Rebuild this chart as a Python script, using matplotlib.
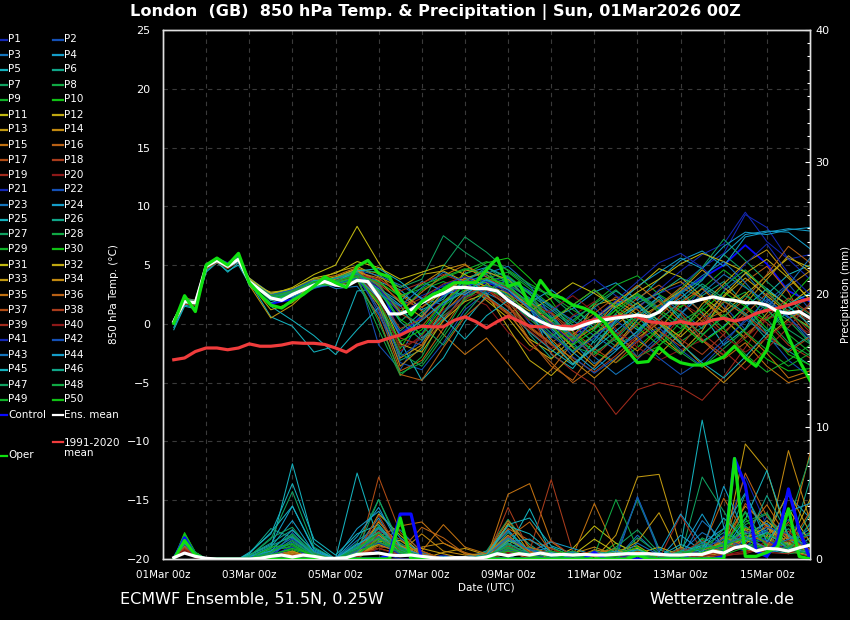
import numpy as np
import matplotlib
matplotlib.use("Agg")
import matplotlib.pyplot as plt
from matplotlib.lines import Line2D
from matplotlib.ticker import MultipleLocator, FixedLocator

# ---------------- data ----------------
title = "London  (GB)  850 hPa Temp. & Precipitation | Sun, 01Mar2026 00Z"
xtick_days = [0, 2, 4, 6, 8, 10, 12, 14]
xtick_labels = ["01Mar 00z", "03Mar 00z", "05Mar 00z", "07Mar 00z",
                "09Mar 00z", "11Mar 00z", "13Mar 00z", "15Mar 00z"]

# 6-hourly time axis (days since 01Mar 00z) for main lines
t6 = np.arange(1, 61) * 0.25
# member time axis
tm = [0.25, 0.5, 0.75, 1.0, 1.25, 1.5, 1.75, 2.0, 2.5, 3.0, 3.5, 4.0, 4.5, 5.0, 5.5,
      6.0, 6.5, 7.0, 7.5, 8.0, 8.5, 9.0, 9.5, 10.0, 10.5, 11.0, 11.5, 12.0, 12.5,
      13.0, 13.5, 14.0, 14.5, 15.0]

ens_mean_temp = [0.2, 1.9, 1.8, 4.9, 5.4, 4.9, 5.5, 3.6, 2.9, 2.2, 2.0, 2.5,
                 2.9, 3.3, 3.6, 3.3, 3.2, 3.7, 3.6, 2.3, 0.85, 0.85, 1.2, 1.8,
                 2.3, 2.6, 3.1, 3.1, 3.0, 3.0, 2.8, 2.0, 1.4, 0.7, 0.2, -0.2,
                 -0.4, -0.45, -0.1, 0.2, 0.35, 0.5, 0.6, 0.75, 0.6, 1.0, 1.8, 1.8,
                 1.85, 2.1, 2.3, 2.1, 2.0, 1.8, 1.8, 1.6, 1.05, 0.9, 1.05, 0.5]
oper_temp = [0.05, 2.4, 1.05, 5.0, 5.6, 5.0, 6.0, 3.5, 2.5, 1.6, 1.35, 2.0,
             2.5, 3.2, 4.0, 3.5, 3.1, 4.9, 5.4, 4.3, 4.0, 2.2, 0.75, 1.9,
             2.5, 2.9, 3.5, 3.5, 3.5, 4.6, 5.6, 3.2, 3.5, 1.6, 3.7, 2.5,
             2.2, 1.6, 1.35, 0.9, 0.1, -1.1, -2.2, -3.3, -3.2, -2.0, -2.8, -3.3,
             -3.5, -3.5, -3.2, -2.8, -1.9, -2.9, -3.6, -2.2, 1.1, -1.1, -3.1, -4.8]
clim_temp = [-3.05, -2.9, -2.35, -2.05, -2.05, -2.2, -2.05, -1.7, -1.9, -1.9, -1.8, -1.6,
             -1.65, -1.65, -1.75, -2.05, -2.4, -1.8, -1.5, -1.5, -1.2, -0.95, -0.5, -0.2,
             -0.25, -0.25, 0.3, 0.6, 0.2, -0.35, 0.2, 0.65, 0.25, -0.2, -0.25, -0.25,
             -0.2, -0.25, 0.1, 0.35, 0.5, 0.6, 0.68, 0.62, 0.2, 0.1, 0.0, 0.2,
             0.0, 0.0, 0.34, 0.48, 0.25, 0.45, 0.9, 1.15, 1.33, 1.6, 1.9, 2.15]
control_temp = [0.1, 2.3, 1.2, 5.0, 5.6, 5.1, 5.9, 3.4, 1.7, 2.1, 3.1, 3.4, 4.6, 3.6, -1.0, 0.7, 2.4,
                3.3, 3.5, 3.0, 1.5, 0.2, -1.0, 0.4, 1.8, 2.3, 1.3, 2.6, 3.9, 5.0, 6.7, 5.1, 2.8, 1.9]

ens_mean_prec = [0.1, 0.45, 0.2, 0.05, 0, 0, 0, 0, 0.05, 0.2, 0.3, 0.15,
                 0.3, 0.2, 0.05, 0.05, 0.1, 0.35, 0.4, 0.45, 0.3, 0.25, 0.3, 0.2,
                 0.1, 0.05, 0.1, 0.1, 0.05, 0.15, 0.4, 0.25, 0.4, 0.3, 0.45, 0.3,
                 0.35, 0.3, 0.35, 0.3, 0.3, 0.35, 0.4, 0.4, 0.4, 0.35, 0.3, 0.3,
                 0.35, 0.35, 0.6, 0.45, 0.85, 1.0, 0.6, 0.8, 0.75, 0.6, 0.85, 1.05]
oper_prec = [0, 1.4, 0.3, 0, 0, 0, 0, 0, 0, 0, 0, 0, 0, 0, 0, 0, 0, 0, 0, 0,
             0, 3.1, 0, 0, 0, 0, 0, 0, 0, 0, 0, 0, 0, 0, 0, 0, 0, 0, 0, 0,
             0, 0, 0, 0.3, 0, 0, 0, 0, 0, 0, 0, 0, 7.6, 0.2, 0.2, 0.5, 0.9, 3.8, 0.2, 0]
control_prec = [0, 1.6, 0.3, 0, 0, 0, 0, 0, 0, 0, 0, 0, 0, 0, 0, 0, 0, 0, 0, 0,
                0.3, 3.4, 3.4, 0, 0, 0, 0, 0, 0, 0, 0, 0, 0, 0, 0, 0, 0, 0, 0, 0.5,
                0, 0, 0, 0, 0, 0, 0, 0, 0, 0, 0, 0.2, 7.6, 5.6, 0.6, 0.2, 1.4, 5.3, 2.2, 0]

# member temperatures (°C)
t_p01 = [0.1,1.8,1.6,4.8,5.6,5.1,5.7,3.5, 2.1,2.6,3.4,3.2,3.9,2.8,1.5,2.4,3.2,3.6,4.1,3.5,1.2,-0.8,-2.3,-1.0,0.4,1.5,2.6,3.3,4.8,6.0,9.3,8.2,5.5,3.8]
t_p02 = [0.3,2.1,1.9,5.0,5.3,4.8,5.4,3.8, 2.4,2.2,3.0,3.6,4.4,-1.8,-3.9,-0.8,1.8,2.9,3.3,2.4,0.1,-1.2,0.6,1.4,-0.6,-2.8,-1.0,0.8,3.1,1.6,-0.5,1.9,3.4,1.2]
t_p03 = [0.0,1.7,1.9,4.7,5.2,4.9,5.3,3.9, 2.6,2.9,3.8,3.0,3.2,0.8,-2.6,0.5,2.8,3.9,2.6,1.8,2.2,0.9,-1.6,-3.4,-2.1,0.3,2.4,1.1,-0.4,2.8,4.3,2.2,0.6,-1.5]
t_p04 = [0.2,2.0,1.8,5.1,5.5,5.0,5.8,3.2, 1.8,2.4,3.6,3.4,4.1,3.6,2.9,1.2,2.1,4.3,4.8,3.9,1.9,0.5,1.3,2.7,3.5,2.0,3.8,5.4,6.2,4.9,7.4,7.8,8.1,7.9]
t_p05 = [-0.3,1.6,1.4,4.5,5.3,4.4,5.2,3.6, 0.6,-0.2,-2.4,-1.9,2.8,3.0,1.6,-1.2,0.4,2.5,3.7,2.9,1.5,-2.6,-3.8,-1.4,0.8,-0.5,1.2,2.8,0.9,-1.8,-0.4,2.5,4.2,5.0]
t_p06 = [0.2,1.9,1.7,4.9,5.4,4.9,5.5,3.7, 2.3,2.7,3.1,3.5,3.9,2.0,-3.1,-2.2,1.6,3.8,4.6,2.3,-0.9,-2.9,-1.8,0.5,1.8,0.6,-1.2,0.9,2.4,3.6,1.7,-0.8,-2.3,-3.5]
t_p07 = [0.4,2.1,2.0,5.0,5.5,5.0,5.6,3.6, 2.0,2.5,3.5,3.6,4.3,3.3,0.2,1.8,4.9,7.4,6.1,4.5,3.2,2.4,0.8,-0.6,-1.9,-0.7,1.0,2.6,3.8,5.9,4.4,3.0,1.4,0.2]
t_p08 = [0.1,1.8,1.9,4.8,5.3,4.8,5.4,3.5, 2.2,2.6,3.2,3.3,3.8,-0.5,-4.4,-2.8,0.7,2.0,3.4,3.8,2.6,-0.4,-1.9,-2.6,-1.0,0.9,0.2,-1.5,-0.3,1.8,2.7,0.4,-1.6,-2.7]
t_p09 = [0.2,2.0,1.7,4.9,5.5,5.1,5.6,3.7, 2.4,2.9,3.9,3.4,3.6,2.6,1.0,2.9,3.6,2.8,3.9,4.4,3.0,1.6,0.1,1.8,3.3,4.1,2.5,1.4,3.0,4.6,3.2,1.3,-0.9,-2.4]
t_p10 = [0.1,1.9,1.8,4.9,5.4,5.0,5.5,3.6, 2.1,2.7,3.5,3.4,4.0,1.9,-2.1,0.8,3.1,4.2,5.2,5.6,3.9,2.0,-0.7,-2.4,-3.3,-2.0,-0.4,1.5,2.2,0.5,-1.4,-3.0,-4.0,-3.8]
t_p11 = [0.3,2.0,1.9,5.0,5.4,4.8,5.3,3.9, 2.5,3.1,4.2,5.0,8.3,5.2,2.6,1.4,2.7,3.2,2.4,0.9,-1.3,-2.4,-0.9,0.4,1.9,3.1,4.7,4.0,2.3,1.0,2.5,4.1,5.6,4.8]
t_p12 = [0.2,1.8,1.6,4.7,5.2,4.9,5.5,3.4, 2.7,2.9,3.6,4.4,4.9,4.0,3.1,4.2,4.5,3.6,2.0,0.5,-1.8,-3.0,-1.2,1.6,2.1,0.8,-1.0,-2.5,-0.6,2.3,3.9,2.4,0.9,-0.3]
t_p13 = [0.4,2.2,2.0,5.1,5.6,5.0,5.6,3.3, 0.5,1.6,3.3,3.9,4.6,2.1,-2.9,-1.8,1.4,4.6,4.2,2.9,1.5,0.2,1.6,2.9,1.2,-1.4,-2.6,-0.8,1.7,3.4,5.2,6.3,4.1,2.0]
t_p14 = [0.2,1.9,1.8,4.9,5.5,4.9,5.4,3.7, 2.3,2.8,3.4,3.9,4.7,4.3,2.2,3.4,4.6,5.1,3.5,1.9,-0.3,-1.7,-3.4,-2.0,-0.1,1.4,2.8,3.6,2.1,0.4,-1.2,0.9,3.2,4.5]
t_p15 = [0.1,1.8,1.7,4.8,5.3,4.8,5.3,3.6, 2.2,2.4,3.3,3.7,4.4,3.9,2.5,1.1,-0.9,-2.6,-1.2,-3.4,-5.6,-3.9,-1.6,0.3,-1.0,-2.3,-0.5,1.8,3.0,1.3,-0.8,-2.5,-4.6,-4.0]
t_p16 = [0.3,2.0,1.8,5.0,5.4,5.0,5.5,3.6, 2.0,2.6,3.7,3.8,4.5,1.2,-4.0,-3.1,-0.4,2.3,3.1,1.7,-1.4,-3.6,-4.8,-2.2,0.6,2.2,3.3,1.9,0.2,1.1,3.6,4.9,2.7,-0.5]
t_p17 = [0.0,1.7,1.6,4.8,5.2,4.7,5.3,3.5, 2.2,2.5,3.5,3.8,4.2,3.4,0.9,-0.2,1.9,3.3,2.2,0.8,2.1,1.0,-0.6,-2.1,-3.3,-1.5,0.6,2.5,1.0,-0.7,0.8,2.6,1.1,-1.2]
t_p18 = [0.2,1.9,1.9,4.9,5.4,4.9,5.5,3.7, 2.4,2.7,3.6,3.5,4.0,2.7,-1.2,-1.8,0.2,2.6,3.0,1.4,-0.4,-1.8,-2.9,-4.1,-2.7,-1.0,0.5,-1.3,-2.6,-0.9,1.3,0.1,-1.8,-2.9]
t_p19 = [0.1,1.8,1.7,4.8,5.4,4.9,5.4,3.6, 2.3,2.9,3.7,3.6,4.4,3.1,1.3,2.2,3.4,4.0,3.2,2.0,0.9,-2.5,-4.0,-5.2,-7.7,-5.6,-5.0,-5.4,-6.5,-4.5,-2.0,0.5,1.2,-0.7]
t_p20 = [0.3,2.0,1.8,5.0,5.5,5.0,5.6,3.5, 2.1,2.6,3.4,3.6,4.1,2.4,-2.3,-1.0,1.2,2.4,1.6,-0.7,-2.3,-0.9,0.7,1.9,-0.4,-2.0,-3.1,-2.2,-1.4,-2.6,-1.2,0.4,1.0,0.3]
t_p21 = [0.2,1.9,1.8,4.9,5.6,5.2,5.8,3.7, 2.3,2.7,3.5,3.4,3.8,2.5,-0.8,0.6,2.4,3.1,2.8,3.3,2.2,1.0,2.6,3.8,2.4,1.3,2.9,4.5,5.9,6.8,9.5,7.0,5.5,5.9]
t_p22 = [0.1,1.8,1.7,4.8,5.4,4.9,5.4,3.6, 2.2,2.8,3.6,3.8,4.3,0.9,-3.3,-3.9,-1.6,1.2,2.7,2.9,1.2,-0.5,-2.8,-4.2,-2.9,-1.4,-0.3,-2.2,-3.6,-1.7,0.4,-0.9,-3.1,-4.5]
t_p23 = [0.4,2.1,2.0,5.1,5.5,5.1,5.7,3.8, 2.5,2.9,3.7,3.7,4.6,4.1,3.3,2.2,1.6,3.4,4.3,4.9,3.3,0.6,-1.1,-2.8,-4.3,-3.0,-1.3,0.8,2.6,4.2,3.1,1.9,0.5,1.6]
t_p24 = [0.2,1.9,1.8,4.9,5.4,4.9,5.5,3.6, 2.1,2.3,3.1,3.6,4.2,3.0,1.9,3.6,2.8,2.5,3.7,3.2,1.8,2.9,1.5,-0.4,1.5,3.2,4.4,5.6,4.7,6.6,7.8,7.6,8.0,8.2]
t_p25 = [-0.5,1.5,1.3,4.4,5.2,4.5,5.0,3.4, 1.5,0.3,-1.0,-2.6,-0.5,1.4,-1.5,-4.8,-2.9,0.2,2.4,1.1,-0.7,-2.2,-3.5,-2.1,-0.6,0.9,2.3,0.4,-1.5,-0.2,1.4,3.0,1.5,-0.1]
t_p26 = [0.2,2.0,1.9,5.0,5.4,5.0,5.5,3.5, 2.2,2.6,3.2,3.4,3.9,2.2,-0.6,1.0,2.3,3.7,4.5,3.6,2.7,1.4,-0.1,-1.6,0.1,1.8,2.6,3.9,3.2,2.0,0.7,-1.3,-2.2,-1.0]
t_p27 = [0.3,2.1,1.9,5.0,5.5,5.0,5.6,3.6, 2.3,2.8,3.7,3.9,4.6,4.4,3.1,3.8,7.5,6.1,4.9,3.4,2.2,0.5,-1.3,0.2,1.6,2.6,1.4,3.0,4.8,7.2,5.4,3.6,2.0,0.8]
t_p28 = [0.1,1.8,1.7,4.8,5.3,4.9,5.4,3.6, 2.4,2.7,3.4,3.3,4.0,1.6,-2.5,-3.6,-1.1,1.5,3.0,2.1,0.4,-1.1,0.3,1.7,2.9,1.2,-0.6,-2.4,-3.7,-2.1,-0.5,1.5,0.3,-1.6]
t_p29 = [0.2,1.9,1.8,4.9,5.5,5.1,5.6,3.7, 2.0,2.5,3.3,3.6,4.3,3.5,2.4,3.0,3.9,4.6,5.3,4.6,3.4,2.4,1.2,0.1,-1.5,-2.8,-1.9,0.2,1.3,-0.4,-2.6,-4.1,-3.1,-1.8]
t_p30 = [0.2,2.0,1.8,4.9,5.4,5.0,5.5,3.6, 2.2,2.6,3.5,3.5,3.9,2.9,0.4,-0.9,1.5,2.9,3.6,4.1,2.6,0.3,-1.4,-0.2,1.2,-0.3,-1.8,-0.6,1.1,2.7,1.5,0.3,2.0,4.0]
t_p31 = [0.3,2.0,1.9,5.0,5.5,5.0,5.6,3.8, 2.6,3.0,3.9,4.3,5.3,4.8,3.8,4.4,5.0,4.2,3.1,2.3,1.1,2.2,3.5,2.6,1.4,2.7,3.8,5.1,6.0,5.3,4.4,2.8,1.6,3.0]
t_p32 = [0.1,1.8,1.7,4.8,5.3,4.8,5.3,3.5, 1.2,1.8,3.6,4.0,4.7,2.7,-1.7,-2.4,0.3,1.9,2.6,-0.3,-3.1,-4.4,-2.6,-0.9,0.5,1.8,0.2,-1.1,0.6,2.4,4.3,5.5,3.9,2.1]
t_p33 = [0.2,1.9,1.8,4.9,5.4,4.9,5.5,3.6, 2.3,2.7,3.3,3.8,4.5,3.7,1.8,0.6,2.7,3.9,4.4,3.8,1.9,-0.1,-2.0,-3.6,-1.8,0.4,1.6,2.8,4.6,3.1,1.7,3.8,5.8,4.4]
t_p34 = [0.2,2.0,1.8,5.0,5.4,5.0,5.5,3.7, 2.1,2.5,3.4,3.7,4.2,1.6,-3.6,-2.0,0.9,2.8,3.3,2.6,0.7,-1.3,-3.1,-4.6,-3.0,-1.2,0.1,-1.6,-3.5,-5.0,-3.2,-1.1,0.4,1.5]
t_p35 = [0.1,1.8,1.7,4.8,5.3,4.8,5.4,3.5, 2.2,2.5,3.8,4.1,4.8,3.2,1.0,2.7,4.1,5.0,4.0,2.6,1.3,0.1,-1.5,-0.3,1.8,3.3,1.9,0.2,-1.4,-3.0,-1.6,-3.6,-5.0,-4.4]
t_p36 = [0.3,2.1,1.9,5.0,5.5,5.0,5.6,3.6, 2.4,2.8,3.5,3.3,3.7,0.5,-4.3,-4.8,-2.0,0.6,2.2,1.0,-1.5,-3.3,-5.0,-3.7,-1.8,0.0,1.6,3.1,2.2,0.6,2.1,4.2,6.6,5.2]
t_p37 = [0.2,1.9,1.8,4.9,5.4,4.9,5.5,3.6, 2.3,2.7,3.6,3.7,4.4,3.4,2.0,1.4,3.0,3.8,2.9,1.5,-0.2,-1.6,-0.4,0.9,2.3,1.2,-0.6,-1.9,0.3,1.9,0.8,-0.9,-2.4,-1.1]
t_p38 = [0.0,1.7,1.6,4.7,5.2,4.8,5.3,3.5, 2.1,2.6,3.3,3.6,4.0,2.3,-0.4,0.4,1.9,3.4,3.9,3.0,1.7,0.9,-0.9,-2.8,-1.1,0.7,2.0,1.0,-1.3,-2.7,-0.9,0.6,2.2,0.9]
t_p39 = [0.2,1.9,1.8,4.9,5.4,5.0,5.5,3.7, 2.2,2.7,3.5,3.6,4.2,3.8,2.8,3.5,4.2,3.5,2.3,1.0,-0.6,-2.1,-1.0,0.6,-1.2,-2.9,-1.5,0.5,-0.8,-2.3,-3.9,-2.1,-0.3,1.8]
t_p40 = [0.3,2.0,1.9,5.0,5.5,5.0,5.6,3.6, 2.3,2.8,3.6,3.5,4.1,2.0,-1.9,-1.3,0.6,2.1,2.9,1.8,0.3,1.2,2.4,1.0,-0.8,-1.6,0.4,1.8,0.7,-1.0,-2.4,-1.2,0.2,-0.8]
t_p41 = [0.2,1.9,1.7,4.9,5.5,5.0,5.6,3.6, 2.2,2.6,3.5,3.7,4.3,3.1,0.8,2.0,3.3,4.0,3.6,2.7,1.4,0.0,-1.6,0.5,2.0,3.6,5.2,6.0,4.8,3.0,5.1,6.8,4.3,2.5]
t_p42 = [0.1,1.8,1.8,4.8,5.4,4.9,5.4,3.6, 2.4,2.9,3.7,3.4,3.9,1.3,-2.8,-1.5,1.0,2.4,3.2,2.2,0.6,-1.0,-2.4,-1.2,0.3,-1.1,-2.9,-4.3,-3.1,-1.4,0.2,2.1,0.6,-1.2]
t_p43 = [0.3,2.0,1.9,5.0,5.4,5.0,5.5,3.7, 2.3,2.6,3.3,3.9,4.2,2.6,1.5,3.1,4.4,3.5,2.5,3.9,2.8,1.5,0.3,-1.0,-2.2,-0.9,1.2,2.7,4.1,5.3,3.5,1.4,3.3,5.6]
t_p44 = [0.1,1.8,1.7,4.8,5.3,4.8,5.3,3.5, 2.1,2.5,3.4,3.5,4.0,2.2,-1.0,0.3,1.8,2.7,3.8,2.9,1.3,-0.3,-2.4,-3.9,-2.3,-0.6,1.1,2.2,3.7,5.9,7.6,7.9,7.8,6.4]
t_p45 = [0.2,1.9,1.8,4.9,5.4,4.9,5.5,3.6, 2.0,2.4,3.7,3.6,4.5,4.7,3.6,2.1,0.5,-1.3,0.7,2.0,0.9,-1.5,-3.4,-2.0,0.3,1.5,0.0,-1.7,-3.3,-4.6,-2.8,-0.8,1.7,2.6]
t_p46 = [0.2,2.0,1.8,5.0,5.5,5.0,5.6,3.7, 2.2,2.8,3.6,3.9,4.4,2.8,0.2,-1.4,0.9,3.6,4.8,4.0,2.5,1.2,-0.3,1.4,2.8,1.6,0.3,1.9,3.4,2.2,0.9,-0.6,1.1,2.3]
t_p47 = [0.3,2.0,1.9,5.0,5.4,5.0,5.5,3.6, 2.3,2.7,3.4,3.6,4.3,3.3,1.1,-0.2,-1.8,0.8,2.9,3.7,2.0,0.5,-1.0,-2.4,-1.3,0.6,2.1,0.7,-0.9,0.6,2.4,1.2,-0.5,-1.7]
t_p48 = [0.1,1.8,1.7,4.8,5.3,4.9,5.4,3.5, 2.2,2.6,3.5,3.3,3.8,0.2,-4.2,-3.3,-0.8,2.2,3.3,2.5,0.8,-0.8,-2.3,-0.9,0.9,2.4,1.0,-0.4,1.4,3.2,4.6,2.8,0.9,-0.4]
t_p49 = [0.2,1.9,1.8,4.9,5.4,5.0,5.5,3.7, 2.4,2.8,3.6,3.7,4.1,3.6,2.3,3.3,4.0,4.7,4.2,3.1,1.7,0.4,1.6,2.9,1.5,0.1,-1.3,-2.6,-1.0,0.8,-0.7,-2.2,-3.6,-2.5]
t_p50 = [0.2,2.0,1.8,5.0,5.5,5.0,5.6,3.6, 2.1,2.5,3.3,3.5,4.0,1.8,-1.5,-0.5,1.9,3.3,3.9,3.3,1.6,-0.2,-1.8,-0.5,1.2,2.5,1.2,0.0,-1.6,-0.3,1.5,-0.4,-2.6,-3.5]

# member precipitation (mm)
r_p01 = [0,1.2,0.3,0,0,0,0,0.2, 0,0.4,0,0,1.2,0.5,0,0,0.3,0,0,0.6,0,0,0.4,0,0,0.3,0,0,0.5,1.8,6.2,2.5,0.8,0.3]
r_p02 = [0,0.9,0.2,0,0,0,0,0, 0,1.1,0.2,0,0.4,2.1,0.6,0,0,0,0.3,0,0.9,0.3,0,0,0.4,0,0,0.2,0,1.1,0.6,3.2,1.4,2.0]
r_p03 = [0,1.6,0.4,0,0,0,0,0, 0.3,0.6,0,0,0,1.4,2.2,0.5,0,0,0,1.8,0.3,0,0,0,0,4.7,0.8,0,0,0.4,2.5,1.2,0.6,1.1]
r_p04 = [0,1.4,0.5,0,0,0,0,0.3, 1.1,4.0,0.7,0,0.9,3.1,0.4,0,0.2,0,0.6,2.2,0.5,0.9,0.2,0,0.3,0,0,0.6,3.4,0.8,1.6,2.2,4.8,3.1]
r_p05 = [0,1.1,0.2,0,0,0,0,0, 0.8,7.2,1.2,0,6.5,1.3,0.5,0,0,0,0,0.8,3.8,0.4,0,0,0,0,0,0.9,10.5,2.4,1.0,0.7,0.4,1.6]
r_p06 = [0,1.5,0.3,0,0,0,0,0.4, 2.3,1.6,0.3,0,0.6,1.9,1.2,0.2,0,0,0.4,2.6,1.1,0,0.3,0,0,0.5,0,0.3,0,0.9,4.9,1.8,0.5,6.0]
r_p07 = [0,1.8,0.4,0,0,0,0,0.2, 1.5,5.1,0.9,0,1.2,4.5,0.8,0.3,0,0,0.6,3.0,0.9,0,0,0.3,0.6,4.5,0.7,0.2,6.2,3.6,1.1,0.8,2.3,0.5]
r_p08 = [0,1.2,0.2,0,0,0,0,0, 0.4,1.8,0.3,0,0.8,2.5,0.6,0,0,0,0,1.4,0.7,0.3,0,0,0,0.8,0,0.3,1.1,0.4,2.8,3.5,0.9,0.2]
r_p09 = [0,1.3,0.3,0,0,0,0,0, 0.6,1.0,0.2,0,0.3,1.6,0.9,0,0,0,0,0.4,0.2,0,0.5,0,1.2,0.4,0,0,1.5,0.3,0.9,1.6,2.6,1.0]
r_p10 = [0,1.9,0.5,0,0,0,0,0, 0.2,0.9,0.3,0,0.5,1.1,0.5,0,0,0,0,0.5,0.2,0.8,0.3,0,0,0.6,0.3,0,0.4,1.0,3.5,0.9,1.2,0.4]
r_p11 = [0,0.8,0.2,0,0,0,0,0, 0,0.4,0,0,0.4,3.4,1.8,0.4,0,0,0.2,0.6,0,0,0.8,2.5,1.2,0.4,0,0,0.2,0.8,2.2,1.1,0.6,0.3]
r_p12 = [0,1.0,0.3,0,0,0,0,0, 0,0.3,0,0,0,1.2,0.9,0.6,0,0,0.3,1.2,0.3,0,0,0,0.6,1.0,0,0.2,0.3,0.6,1.5,2.9,1.4,0.7]
r_p13 = [0,1.4,0.4,0,0,0,0,0, 0,0.5,0.2,0,0.3,1.5,0.7,0,0.5,0.8,0.3,1.6,0.4,0.3,0,0,1.8,6.2,6.4,0.9,0.2,0.5,8.7,6.7,1.4,0.5]
r_p14 = [0,1.1,0.2,0,0,0,0,0, 0,0.2,0,0,0.5,0.8,0.4,0.9,1.2,0.4,0,0.7,0.2,0,0.4,0.9,0.3,0,0.3,0.5,0,1.6,0.6,0.8,8.2,2.9]
r_p15 = [0,1.7,0.5,0,0,0,0,0, 0.3,0.6,0,0,0.4,1.7,2.5,2.8,1.2,0.5,0,4.9,5.7,1.3,0.2,4.2,0.6,0,0,0.3,0.5,1.2,2.0,4.1,1.5,8.0]
r_p16 = [0,1.3,0.3,0,0,0,0,0, 0,0.3,0,0,0.2,1.0,0.6,2.4,1.6,0.4,0.3,2.3,1.4,0.8,0,0.5,0.2,0,0.4,0.3,0.8,4.6,1.8,1.3,0.9,3.6]
r_p17 = [0,1.0,0.2,0,0,0,0,0, 0,0.2,0,0,0,6.2,2.0,0.6,0,0,0,0.8,0.4,0.3,0,0.3,0,0.6,0,0,0.4,0.7,4.2,2.4,0.6,0.2]
r_p18 = [0,0.9,0.3,0,0,0,0,0, 0,0.3,0.5,0,0.6,2.1,1.5,0.3,0,0,0,3.9,0.6,6.0,0.5,0,0.2,0,0,0.7,0.3,0.5,1.1,2.6,0.8,0.4]
r_p19 = [0,0.7,0.2,0,0,0,0,0, 0,0.1,0,0,0.3,0.8,1.1,0.2,0,0,0,0.4,0.2,0.8,0,0,0.3,0.4,0,3.3,0.6,0.3,0.4,0.9,2.1,0.6]
r_p20 = [0,0.6,0.1,0,0,0,0,0, 0,0,0,0,0,1.5,0.4,0,0,0,0,0.9,0.3,0,0.2,0,0,0.2,0,0.4,0.2,0.3,0.6,1.3,0.5,0.8]
r_p21 = [0,1.4,0.4,0,0,0,0,0, 0.2,0.8,0,0,0.5,1.3,0.3,0,0,0,0.2,0.5,0.3,0,0,0,0,0.8,0,0,0.3,0.9,1.7,1.2,3.0,0.9]
r_p22 = [0,1.0,0.2,0,0,0,0,0, 0,2.0,0.3,0,0.7,1.8,0.6,0,0,0,0,1.1,0.8,0.2,0,0.4,0,0.5,0,0.5,1.2,0.6,1.3,2.1,0.7,2.6]
r_p23 = [0,1.2,0.3,0,0,0,0,0, 0.6,1.6,0.4,0,1.4,2.4,0.9,0,0,0.2,0.5,2.1,0.4,0,0.3,0,0,1.8,0.3,0,2.9,1.4,0.8,0.4,0.9,0.3]
r_p24 = [0,1.3,0.3,0,0,0,0,0.2, 0.9,2.9,0.5,0,2.3,3.6,1.6,0.4,0,0,0.3,1.7,0.5,1.3,0.8,0.3,0.5,0.2,0,1.8,0.6,5.5,1.9,2.7,1.1,2.3]
r_p25 = [0,1.5,0.4,0,0,0,0,0.5, 1.9,5.7,1.5,0.3,1.9,2.6,0.7,0.2,0,0,0.4,2.6,3.1,1.0,0.4,0,0,0.3,0,0.6,1.0,0.7,3.0,6.7,1.7,0.9]
r_p26 = [0,1.6,0.4,0,0,0,0,0.3, 1.2,2.2,0.5,0,0.8,1.5,0.5,0,0,0,0.2,2.0,0.6,0.3,0,0.2,0,0.7,0.2,0.4,0.8,1.2,2.0,1.4,0.6,3.4]
r_p27 = [0,1.7,0.5,0,0,0,0,0.2, 0.8,1.9,0.4,0,0.6,4.5,1.1,0,0,0,0,1.2,0.3,0,0.6,0,0.9,2.2,0.5,0,1.6,0.8,3.6,1.0,2.8,7.7]
r_p28 = [0,1.3,0.3,0,0,0,0,0, 0.5,1.2,0.3,0,0.9,1.8,0.4,0,0,0,0,0.6,0.9,0.2,0,0.3,4.5,0.8,0,0.6,0.4,2.3,0.7,1.1,0.4,0.6]
r_p29 = [0,1.5,0.4,0,0,0,0,0, 0.7,0.9,0.2,0,0.4,1.2,0.8,0.3,0,0,0,1.0,0.2,0.5,0,0,0.6,0.3,0,0.8,0.2,1.4,1.9,0.6,1.3,0.5]
r_p30 = [0,2.0,0.5,0,0,0,0,0, 0.4,0.7,0.2,0,0.3,1.9,0.6,0,0,0,0,0.7,0.3,0.4,0.5,0,0,0.4,0,0.3,0.7,0.6,2.4,1.6,0.5,1.2]
r_p31 = [0,0.9,0.2,0,0,0,0,0, 0,0.3,0,0,0.3,2.8,1.0,0.3,0,0,0,0.9,0.2,0,0.3,1.5,0.5,0.8,0,0,0.5,1.0,1.4,0.9,3.8,1.3]
r_p32 = [0,1.2,0.3,0,0,0,0,0, 0,0.2,0,0,0.2,1.3,1.4,0.3,0,0,0.2,1.4,0.6,0,0.2,0.5,0.3,0.4,0.9,0.3,0.4,0.9,1.6,2.4,1.0,4.5]
r_p33 = [0,1.0,0.2,0,0,0,0,0, 0,0.6,0,0,0.5,1.8,0.6,0.8,0.4,0,0,2.7,0.5,0.3,0,0.7,0.4,1.3,3.5,0.2,0,0.6,2.3,1.7,5.1,2.0]
r_p34 = [0,1.4,0.3,0,0,0,0,0, 0,0.4,0,0,0.3,1.1,0.5,1.9,0.6,0.3,0.4,1.8,0.4,0.6,0.2,0.4,0,0.2,0.4,0,0.6,1.3,4.0,2.5,1.2,0.5]
r_p35 = [0,1.6,0.4,0,0,0,0,0, 0.2,0.5,0,0,0.6,2.3,0.9,0.6,2.6,0.9,0.4,2.9,0.9,0.4,0,0.4,0.8,0.3,0,0.4,0.2,1.7,0.9,0.4,1.8,0.9]
r_p36 = [0,1.2,0.3,0,0,0,0,0, 0,0.3,0,0,0.3,1.6,0.8,0.4,0,0,0,1.6,2.8,0.5,0.3,0,0,0.5,0,0.2,0.4,0.8,6.5,3.2,1.6,0.7]
r_p37 = [0,0.9,0.2,0,0,0,0,0, 0,0.2,0,0,0.4,2.9,0.6,0.2,0,0,0,1.0,0.3,0,0.3,0.6,0.2,0,0.2,0.5,0,0.4,2.1,1.2,0.7,1.9]
r_p38 = [0,1.1,0.2,0,0,0,0,0, 0,0.3,0.4,0,0.5,3.3,0.5,0,0,0,0,1.7,0.5,1.4,0.2,0,0.4,0.3,0,0.8,0.3,0.5,1.6,0.9,2.8,0.6]
r_p39 = [0,0.8,0.2,0,0,0,0,0, 0,0.2,0,0,0,1.9,0.7,0,0,0,0,0.6,0.3,0.4,0,0.2,0,0.5,0,0.4,1.4,0.6,0.9,0.5,0.4,1.1]
r_p40 = [0,0.7,0.1,0,0,0,0,0, 0,0.1,0,0,0.2,0.8,0.3,0,0,0,0.3,0.5,0.1,0,0,0,0.2,0,0,0.2,0.3,0.2,0.5,0.9,1.4,0.3]
r_p41 = [0,1.3,0.3,0,0,0,0,0, 0.3,0.9,0,0,0.7,1.2,0.6,0,0,0,0,0.9,0.4,0,0.2,0,0,0.5,0,0,0.6,0.9,2.1,1.4,0.7,0.4]
r_p42 = [0,1.1,0.2,0,0,0,0,0, 0.2,1.5,0.2,0,0.6,1.7,0.3,0,0,0,0.2,0.7,0.4,0.6,0,0,0.3,4.7,0.5,0,0.8,1.5,0.9,2.4,1.9,0.6]
r_p43 = [0,1.5,0.4,0,0,0,0,0.2, 0.4,1.3,0.3,0,1.0,2.3,0.8,0,0,0,0.3,1.6,0.7,0.2,0.5,0,0,1.2,0.3,0.5,2.0,1.1,1.7,0.8,1.5,1.8]
r_p44 = [0,1.2,0.3,0,0,0,0,0.2, 0.6,2.2,0.6,0,1.7,3.9,0.9,0.3,0,0,0,1.3,1.5,0.4,0.3,0.3,0.6,0.2,0.5,3.4,1.2,2.3,5.0,1.3,3.6,4.2]
r_p45 = [0,1.4,0.4,0,0,0,0,0.4, 2.0,4.0,0.8,0,1.1,2.0,0.5,0,0,0,0.3,2.5,1.9,0.5,0,0.3,0.4,0.7,0.2,1.1,0.5,3.1,1.4,2.0,0.8,0.5]
r_p46 = [0,1.6,0.4,0,0,0,0,0.3, 1.0,1.7,0.3,0,0.5,2.4,0.7,0,0,0,0,1.5,0.4,0.3,0,0.6,0.3,0.4,0,0.5,0.9,2.0,1.2,4.8,1.8,0.9]
r_p47 = [0,1.5,0.3,0,0,0,0,0.2, 1.6,2.4,0.4,0,0.9,1.6,0.9,0,0,0,0,1.1,0.4,0.2,0.6,0,0,1.6,0.4,0,1.3,0.6,2.6,3.4,0.6,2.7]
r_p48 = [0,1.4,0.3,0,0,0,0,0, 0.5,1.4,0.2,0,0.4,1.3,0.5,0,0,0,0.3,0.9,0.3,0,0.4,0,0.8,0.3,0,0.6,0.3,1.2,0.7,2.0,1.0,0.5]
r_p49 = [0,1.8,0.5,0,0,0,0,0, 0.9,1.1,0.2,0,0.7,2.0,0.8,0,0,0,0,0.8,0.3,0.6,0.2,0,0.2,0.5,0,0.4,0.8,1.0,1.6,0.6,0.9,2.0]
r_p50 = [0,1.9,0.5,0,0,0,0,0, 0.3,0.8,0.3,0,0.4,1.5,0.6,0,0,0,0,0.6,0.2,0,0.4,0,0.3,0.9,0,0.2,0.5,1.1,3.1,0.9,0.7,0.4]

member_temp = [t_p01, t_p02, t_p03, t_p04, t_p05, t_p06, t_p07, t_p08, t_p09, t_p10,
               t_p11, t_p12, t_p13, t_p14, t_p15, t_p16, t_p17, t_p18, t_p19, t_p20,
               t_p21, t_p22, t_p23, t_p24, t_p25, t_p26, t_p27, t_p28, t_p29, t_p30,
               t_p31, t_p32, t_p33, t_p34, t_p35, t_p36, t_p37, t_p38, t_p39, t_p40,
               t_p41, t_p42, t_p43, t_p44, t_p45, t_p46, t_p47, t_p48, t_p49, t_p50]
member_prec = [r_p01, r_p02, r_p03, r_p04, r_p05, r_p06, r_p07, r_p08, r_p09, r_p10,
               r_p11, r_p12, r_p13, r_p14, r_p15, r_p16, r_p17, r_p18, r_p19, r_p20,
               r_p21, r_p22, r_p23, r_p24, r_p25, r_p26, r_p27, r_p28, r_p29, r_p30,
               r_p31, r_p32, r_p33, r_p34, r_p35, r_p36, r_p37, r_p38, r_p39, r_p40,
               r_p41, r_p42, r_p43, r_p44, r_p45, r_p46, r_p47, r_p48, r_p49, r_p50]
member_labels = ["P%d" % i for i in range(1, 51)]

# colour cycle of members (repeats every 20)
palette = ["#1428b4", "#1450b4", "#1474bc", "#149cc8", "#14b0bc", "#10a488", "#10a060", "#10a844",
           "#10b028", "#10c014", "#c0b810", "#c0a810", "#c09810", "#c08810", "#c07010", "#b86014",
           "#b04c14", "#a83c1c", "#a02a1c", "#8c1818"]
col_control = "#0a0aff"
col_oper = "#10e010"
col_mean = "#ffffff"
col_clim = "#f03c3c"

for i, (a, b) in enumerate(zip(member_temp, member_prec)):
    assert len(a) == len(tm), ("temp", i + 1, len(a))
    assert len(b) == len(tm), ("prec", i + 1, len(b))

# ---------------- figure ----------------
W, H = 850, 620
fig = plt.figure(figsize=(W / 100, H / 100), dpi=100, facecolor="black")
ax = fig.add_axes([163 / W, 1 - 559 / H, (810 - 163) / W, (559 - 30) / H])
ax.set_facecolor("black")
ax2 = ax.twinx()

lw_m = 0.75
lw_t = 2.3
ax.plot(tm, control_temp, color=col_control, lw=1.3, zorder=2)
for i, ser in enumerate(member_temp):
    ax.plot(tm, ser, color=palette[i % 20], lw=lw_m, zorder=2)
ax.plot(t6, clim_temp, color=col_clim, lw=lw_t, zorder=4)
ax.plot(t6, ens_mean_temp, color=col_mean, lw=lw_t, zorder=5)
ax.plot(t6, oper_temp, color=col_oper, lw=lw_t, zorder=6)

for i, ser in enumerate(member_prec):
    ax2.plot(tm, ser, color=palette[i % 20], lw=lw_m, zorder=2)
ax2.plot(t6, control_prec, color=col_control, lw=lw_t, zorder=3)
ax2.plot(t6, oper_prec, color=col_oper, lw=lw_t, zorder=4)
ax2.plot(t6, ens_mean_prec, color=col_mean, lw=lw_t, zorder=5)

ax.set_xlim(0, 15)
ax.set_ylim(-20, 25)
ax2.set_ylim(0, 40)

ax.xaxis.set_major_locator(FixedLocator(xtick_days))
ax.set_xticklabels(xtick_labels)
ax.xaxis.set_minor_locator(MultipleLocator(1))
ax.yaxis.set_major_locator(MultipleLocator(5))
ax.grid(True, which="both", axis="x", color="#3a3a3a", ls=(0, (4, 4)), lw=0.8)
ax.grid(True, which="major", axis="y", color="#3a3a3a", ls=(0, (4, 4)), lw=0.8)
ax.set_axisbelow(True)

ax.tick_params(axis="x", which="both", length=0, pad=8, colors="white", labelsize=7.5)
ax.tick_params(axis="y", which="both", length=0, pad=9, colors="white", labelsize=8)
ax2.yaxis.set_major_locator(MultipleLocator(10))
ax2.yaxis.set_minor_locator(MultipleLocator(1))
ax2.tick_params(axis="y", which="major", direction="in", length=3.5, width=0.8,
                colors="white", labelsize=8, pad=4)
ax2.tick_params(axis="y", which="minor", direction="in", length=2.5, width=0.8, colors="white")

for a in (ax, ax2):
    for s in a.spines.values():
        s.set_color("#e0e0e0")
        s.set_linewidth(1.0)

ax.set_ylabel("850 hPa Temp. (°C)", color="white", fontsize=7.5, labelpad=6)
ax2.set_ylabel("Precipitation (mm)", color="white", fontsize=7.5, labelpad=8)
ax.set_xlabel("Date (UTC)", color="white", fontsize=7.5, labelpad=2)

fig.text(435 / W, 1 - 12 / H, title, color="white", fontsize=11.6, fontweight="bold",
         ha="center", va="center")
fig.text(120 / W, 1 - 599 / H, "ECMWF Ensemble, 51.5N, 0.25W", color="white", fontsize=11.5,
         ha="left", va="center")
fig.text(794 / W, 1 - 599 / H, "Wetterzentrale.de", color="white", fontsize=11.5,
         ha="right", va="center")

# ---------------- legend (two columns, left margin) ----------------
def leg_entry(xh0, xh1, y, color, label, lw=1.6, va="center", ty=None):
    fig.add_artist(Line2D([xh0 / W, xh1 / W], [1 - y / H, 1 - y / H], color=color, lw=lw,
                          transform=fig.transFigure))
    fig.text((xh1 + 1) / W, 1 - (y if ty is None else ty) / H, label, color="white",
             fontsize=7.5, ha="left", va=va, linespacing=0.95)

for i, lab in enumerate(member_labels):
    row = i // 2
    y = 39.5 + 15 * row
    if i % 2 == 0:
        leg_entry(-2, 7, y, palette[i % 20], lab)
    else:
        leg_entry(53, 63, y, palette[i % 20], lab)
leg_entry(-2, 7, 414.5, col_control, "Control")
leg_entry(53, 63, 414.5, col_mean, "Ens. mean")
leg_entry(53, 63, 442, col_clim, "1991-2020\nmean", ty=448)
leg_entry(-2, 7, 455.5, col_oper, "Oper")

fig.savefig("out.png", dpi=100, facecolor="black")
